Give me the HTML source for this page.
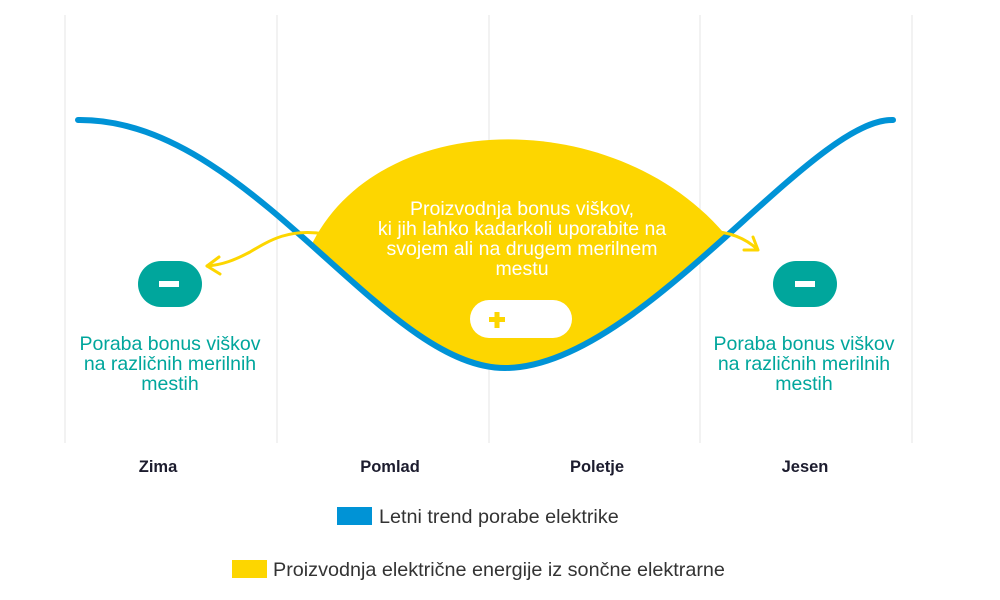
<!DOCTYPE html>
<html><head><meta charset="utf-8"><style>
body{margin:0;background:#fff;}
svg{display:block;font-family:"Liberation Sans",sans-serif;}
</style></head><body>
<svg width="1000" height="600" viewBox="0 0 1000 600">
<defs>
<clipPath id="above"><path d="M78,120 C250,118 381,368 505,368 C640,368 810,118 893,120 L1000,120 L1000,0 L0,0 L0,120 Z"/></clipPath>
</defs>
<g stroke="#e6e6e6" stroke-width="1">
<line x1="65" y1="15" x2="65" y2="443"/><line x1="277" y1="15" x2="277" y2="443"/>
<line x1="489" y1="15" x2="489" y2="443"/><line x1="700" y1="15" x2="700" y2="443"/>
<line x1="912" y1="15" x2="912" y2="443"/>
</g>
<path clip-path="url(#above)" fill="#fdd600" d="M300,275 C350,95 650,95 750,270 L760,420 L280,420 Z"/>
<path d="M78,120 C250,118 381,368 505,368 C640,368 810,118 893,120" fill="none" stroke="#0093d6" stroke-width="6" stroke-linecap="round"/>
<g fill="none" stroke="#fdd600" stroke-width="3" stroke-linecap="round" stroke-linejoin="round">
<path d="M325,234 C290,228 270,240 250,252 C235,260 222,265 207,266"/>
<path d="M219,257 L207,266 L220,274"/>
<path d="M710,231 C730,232 745,238 757,249"/>
<path d="M753,237 L758,250 L744,250"/>
</g>
<rect x="138" y="261" width="64" height="46" rx="23" fill="#00a69c"/>
<rect x="159" y="281" width="20" height="6" fill="#fff"/>
<rect x="773" y="261" width="64" height="46" rx="23" fill="#00a69c"/>
<rect x="795" y="281" width="20" height="6" fill="#fff"/>
<rect x="470" y="300" width="102" height="38" rx="19" fill="#fff"/>
<rect x="489" y="317" width="16" height="5" fill="#fdd600"/><rect x="494.5" y="312" width="5" height="16" fill="#fdd600"/>
<g fill="#fff" font-size="19.5" text-anchor="middle">
<text x="522" y="215">Proizvodnja bonus viškov,</text>
<text x="522" y="235">ki jih lahko kadarkoli uporabite na</text>
<text x="522" y="255">svojem ali na drugem merilnem</text>
<text x="522" y="275">mestu</text>
</g>
<g fill="#00a69c" font-size="19.5" text-anchor="middle">
<text x="170" y="350">Poraba bonus viškov</text>
<text x="170" y="370">na različnih merilnih</text>
<text x="170" y="390">mestih</text>
<text x="804" y="350">Poraba bonus viškov</text>
<text x="804" y="370">na različnih merilnih</text>
<text x="804" y="390">mestih</text>
</g>
<g fill="#1c1c2e" font-size="16.5" font-weight="bold" text-anchor="middle">
<text x="158" y="472">Zima</text><text x="390" y="472">Pomlad</text>
<text x="597" y="472">Poletje</text><text x="805" y="472">Jesen</text>
</g>
<rect x="337" y="507" width="35" height="18" fill="#0093d6"/>
<text x="379" y="523" font-size="19.8" fill="#333">Letni trend porabe elektrike</text>
<rect x="232" y="560" width="35" height="18" fill="#fdd600"/>
<text x="273" y="576" font-size="19.8" fill="#333">Proizvodnja električne energije iz sončne elektrarne</text>
</svg>
</body></html>
